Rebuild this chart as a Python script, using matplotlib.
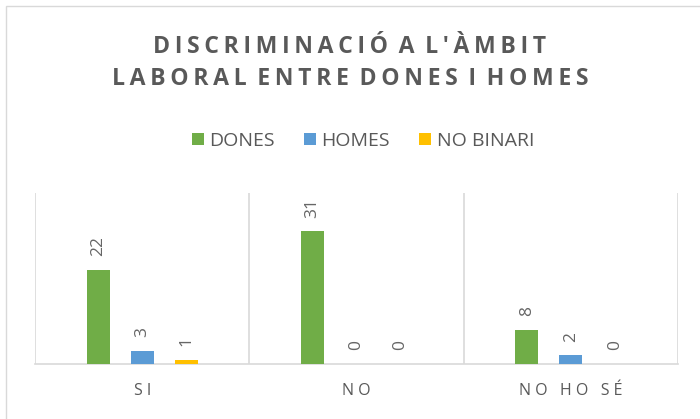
import matplotlib
matplotlib.use("Agg")
import matplotlib.pyplot as plt
from matplotlib.patches import Rectangle

categories = ["SI", "NO", "NO HO SÉ"]
series_names = ["DONES", "HOMES", "NO BINARI"]
dones = [22, 31, 8]
homes = [3, 0, 2]
no_binari = [1, 0, 0]
colors = ["#70AD47", "#5B9BD5", "#FFC000"]

FAM = ["Open Sans", "DejaVu Sans"]

def spaced(s, sep="\u2009", word_sep="\u2009 "):
    words = s.split(" ")
    return word_sep.join(sep.join(list(w)) for w in words)

fig = plt.figure(figsize=(7.0, 4.19), dpi=100)
fig.patch.set_facecolor("white")
fig.add_artist(Rectangle((6/700, -10/419), 710/700, 423/419, transform=fig.transFigure,
                         fill=False, edgecolor="#d9d9d9", linewidth=1.0))

ax = fig.add_axes([35/700, 55/419, 643/700, 171/419])
series = [dones, homes, no_binari]
step = 0.2056
width = 0.1075
x = list(range(len(categories)))
for i, (vals, name, c) in enumerate(zip(series, series_names, colors)):
    xs = [xx + (i - 1) * step for xx in x]
    bars = ax.bar(xs, vals, width=width, color=c, label=name, zorder=3)
    for b, v in zip(bars, vals):
        ax.annotate(str(v), (b.get_x() + b.get_width() / 2, v), xytext=(0, 10),
                    textcoords="offset points", rotation=90, ha="center", va="bottom",
                    fontsize=12.5, color="#666666", family=FAM)

ax.set_xlim(-0.5, 2.5)
ax.set_ylim(0, 40)
for s in ["top", "right", "left"]:
    ax.spines[s].set_visible(False)
ax.spines["bottom"].set_color("#d9d9d9")
ax.spines["bottom"].set_linewidth(1.2)
for xv in [-0.5, 0.5, 1.5, 2.5]:
    ax.axvline(xv, color="#d9d9d9", linewidth=1.2, zorder=1)
ax.set_yticks([])
ax.set_xticks(x)
ax.set_xticklabels([spaced(c, " ", "   ") for c in categories], fontsize=11.5,
                   color="#595959", family=FAM)
ax.tick_params(axis="x", length=0, pad=14)

fig.text(0.5, 1 - 47/419, spaced("DISCRIMINACIÓ A L'ÀMBIT"), ha="center", va="center",
         fontsize=16.6, fontweight="bold", color="#595959", family=FAM)
fig.text(0.5, 1 - 79/419, spaced("LABORAL ENTRE DONES I HOMES"), ha="center", va="center",
         fontsize=16.6, fontweight="bold", color="#595959", family=FAM)

leg = fig.legend(loc="center", bbox_to_anchor=(363/700, 1 - 141/419), ncol=3, frameon=False,
                 prop={"family": FAM, "size": 14}, handlelength=0.6, handleheight=0.6,
                 handletextpad=0.3, columnspacing=1.5)
for t in leg.get_texts():
    t.set_color("#595959")

fig.savefig("out.png", dpi=100, facecolor="white")
